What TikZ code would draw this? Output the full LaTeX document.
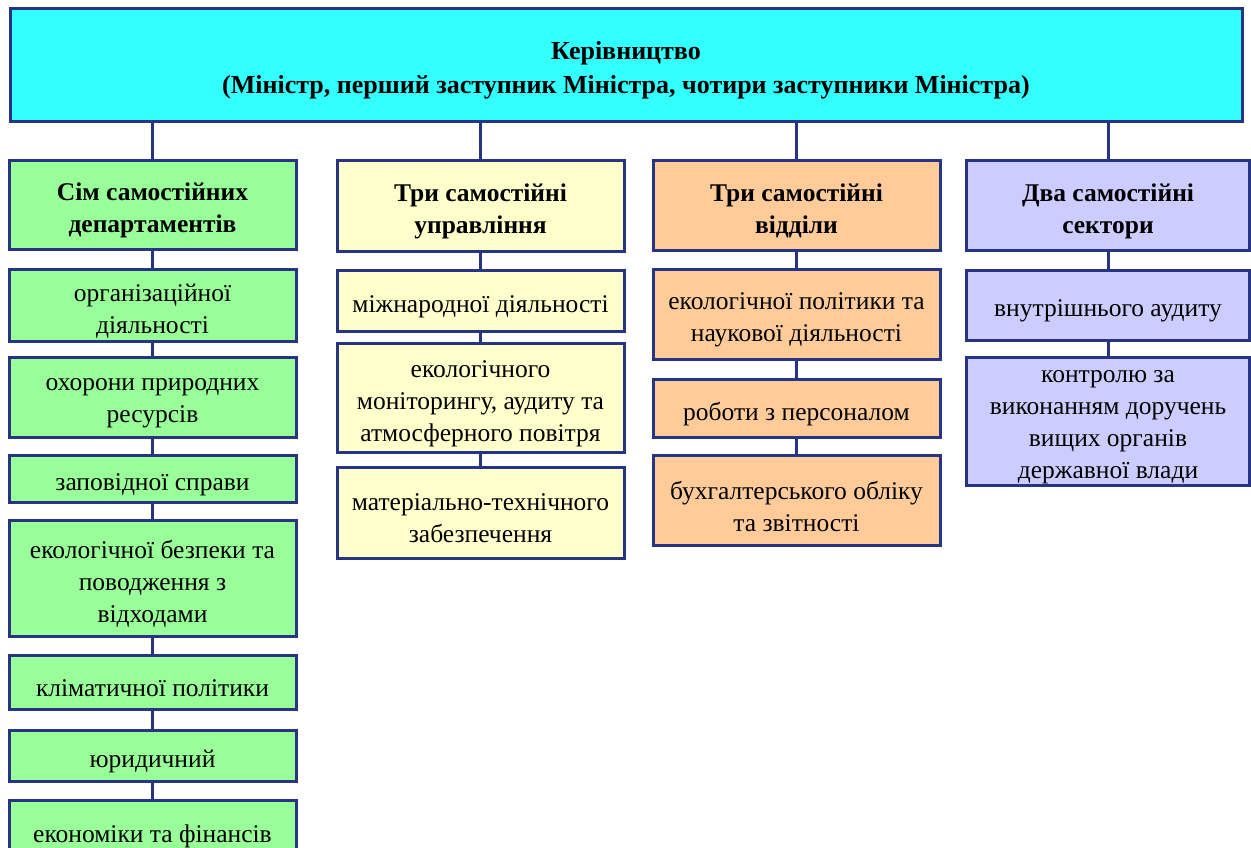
\documentclass[tikz,border=0pt]{standalone}
\usepackage{fontspec}
\setmainfont{Liberation Serif}
\definecolor{bordc}{RGB}{38,52,130}
\definecolor{cyanf}{RGB}{51,255,255}
\definecolor{greenf}{RGB}{153,255,153}
\definecolor{yellowf}{RGB}{255,255,204}
\definecolor{orangef}{RGB}{255,204,153}
\definecolor{lavf}{RGB}{204,204,255}
\tikzset{
  box/.style={draw=bordc, line width=3pt, inner sep=0pt},
  txt/.style={align=center, inner sep=0pt, font=\fontsize{25.5}{32}\selectfont},
  htxt/.style={txt, font=\fontsize{25.5}{32}\selectfont\bfseries},
  conn/.style={draw=bordc, line width=3pt},
}
% #1 fill, #2 name, #3 center, #4 width, #5 height, #6 text style, #7 text
\newcommand{\bx}[7]{%
  \node[box, fill=#1, minimum width=#4pt, minimum height=#5pt] (#2) at #3 {};
  \node[#6] (#2t) at ([yshift=-6pt]#2.center) {#7};}
\begin{document}
\begin{tikzpicture}[x=1pt,y=-1pt]
\useasboundingbox (0,0) rectangle (1251,847);
% top
\bx{cyanf}{top}{(626,64.5)}{1232}{113}{htxt, font=\fontsize{26}{34}\selectfont\bfseries}
  {Керівництво\\(Міністр, перший заступник Міністра, чотири заступники Міністра)}
% column 1
\bx{greenf}{g0}{(152.5,204.5)}{287}{89}{htxt}{Сім самостійних\\департаментів}
\bx{greenf}{g1}{(152.5,305)}{287}{72}{txt}{організаційної\\діяльності}
\bx{greenf}{g2}{(152.5,397)}{287}{80}{txt}{охорони природних\\ресурсів}
\bx{greenf}{g3}{(152.5,478.5)}{287}{47}{txt}{заповідної справи}
\bx{greenf}{g4}{(152.5,578)}{287}{116}{txt}{екологічної безпеки та\\поводження з\\відходами}
\bx{greenf}{g5}{(152.5,682.5)}{287}{54}{txt}{кліматичної політики}
\bx{greenf}{g6}{(152.5,755.5)}{287}{51}{txt}{юридичний}
\bx{greenf}{g7}{(152.5,830)}{287}{60}{txt}{економіки та фінансів}
% column 2
\bx{yellowf}{y0}{(480.5,205.5)}{287}{91}{htxt}{Три самостійні\\управління}
\bx{yellowf}{y1}{(480.5,300.5)}{287}{61}{txt}{міжнародної діяльності}
\bx{yellowf}{y2}{(480.5,397.5)}{287}{109}{txt}{екологічного\\моніторингу, аудиту та\\атмосферного повітря}
\bx{yellowf}{y3}{(480.5,512.5)}{287}{91}{txt}{матеріально-технічного\\забезпечення}
% column 3
\bx{orangef}{o0}{(796.5,205)}{287}{90}{htxt}{Три самостійні\\відділи}
\bx{orangef}{o1}{(796.5,314)}{287}{90}{txt}{екологічної політики та\\наукової діяльності}
\bx{orangef}{o2}{(796.5,408)}{287}{58}{txt}{роботи з персоналом}
\bx{orangef}{o3}{(796.5,500)}{287}{90}{txt}{бухгалтерського обліку\\та звітності}
% column 4
\bx{lavf}{l0}{(1108,205)}{283}{90}{htxt}{Два самостійні\\сектори}
\bx{lavf}{l1}{(1108,305)}{283}{70}{txt}{внутрішнього аудиту}
\bx{lavf}{l2}{(1108,421)}{283}{128}{txt}{контролю за\\виконанням доручень\\вищих органів\\державної влади}
% connectors
\begin{scope}[on background layer/.style={}]
\foreach \n in {g0,y0,o0,l0} \draw[conn] (top.south -| \n.north) -- (\n.north);
\draw[conn] (g0) -- (g1); \draw[conn] (g1) -- (g2); \draw[conn] (g2) -- (g3);
\draw[conn] (g3) -- (g4); \draw[conn] (g4) -- (g5); \draw[conn] (g5) -- (g6); \draw[conn] (g6) -- (g7);
\draw[conn] (y0) -- (y1); \draw[conn] (y1) -- (y2); \draw[conn] (y2) -- (y3);
\draw[conn] (o0) -- (o1); \draw[conn] (o1) -- (o2); \draw[conn] (o2) -- (o3);
\draw[conn] (l0) -- (l1); \draw[conn] (l1) -- (l2);
\end{scope}
\end{tikzpicture}
\end{document}
